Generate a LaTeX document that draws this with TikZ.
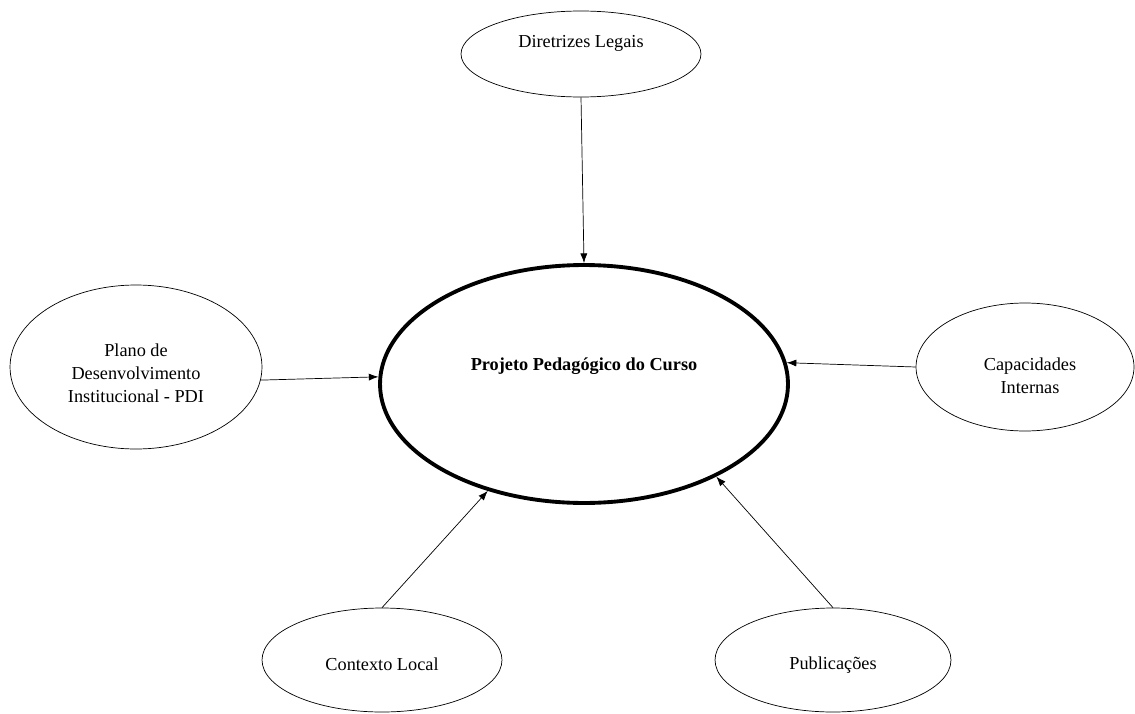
\documentclass[tikz,border=0pt]{standalone}
\usepackage{fontspec}
\setmainfont{Liberation Serif}
\usepackage{tikz}
\usetikzlibrary{arrows.meta,shapes.geometric}
\tikzset{
	bolha/.style={ellipse, draw, thin, inner sep=0pt},
	fluxo/.style={thin, -{Latex[length=5.5pt,width=4pt]}}
}

\begin{document}
\begin{tikzpicture}[x=0.02cm, y=-0.02cm, font=\fontsize{10.4}{13}\selectfont]
		
		\useasboundingbox (0,0) rectangle (1135,713);
		
		% projeto no centro
		\node [bolha, line width=2.2pt, minimum width=8.16cm, minimum height=4.76cm,
			label={[yshift=0.36cm, font=\fontsize{10.4}{13}\selectfont\bfseries]center:Projeto Pedagógico do Curso}] (ppc) at (584,384) {};
		
		% fontes em volta
		\node [bolha, minimum width=4.8cm, minimum height=1.72cm,
			label={[yshift=0.22cm]center:Diretrizes Legais}] (dl) at (581,54) {};
		\node [bolha, minimum width=5.04cm, minimum height=3.28cm,
			label={[align=center, yshift=-0.12cm]center:Plano de\\Desenvolvimento\\Institucional - PDI}] (pdi) at (136,367) {};
		\node [bolha, minimum width=4.36cm, minimum height=2.56cm,
			label={[align=center, yshift=-0.18cm, xshift=0.1cm]center:Capacidades\\Internas}] (ci) at (1025,367) {};
		\node [bolha, minimum width=4.8cm, minimum height=2.08cm,
			label={[yshift=-0.08cm]center:Contexto Local}] (cl) at (382,660) {};
		\node [bolha, minimum width=4.72cm, minimum height=2.08cm,
			label={[yshift=-0.1cm]center:Publicações}] (cp) at (833,660) {};
		
		\draw [fluxo] (dl.south) -- (ppc.north);
		\draw [fluxo] (pdi.-6) -- (ppc.178);
		\draw [fluxo] (ci.west) -- (ppc.6);
		\draw [fluxo] (cl.north) -- (ppc.228);
		\draw [fluxo] (cp.north) -- (ppc.325);
		
\end{tikzpicture}
\end{document}
